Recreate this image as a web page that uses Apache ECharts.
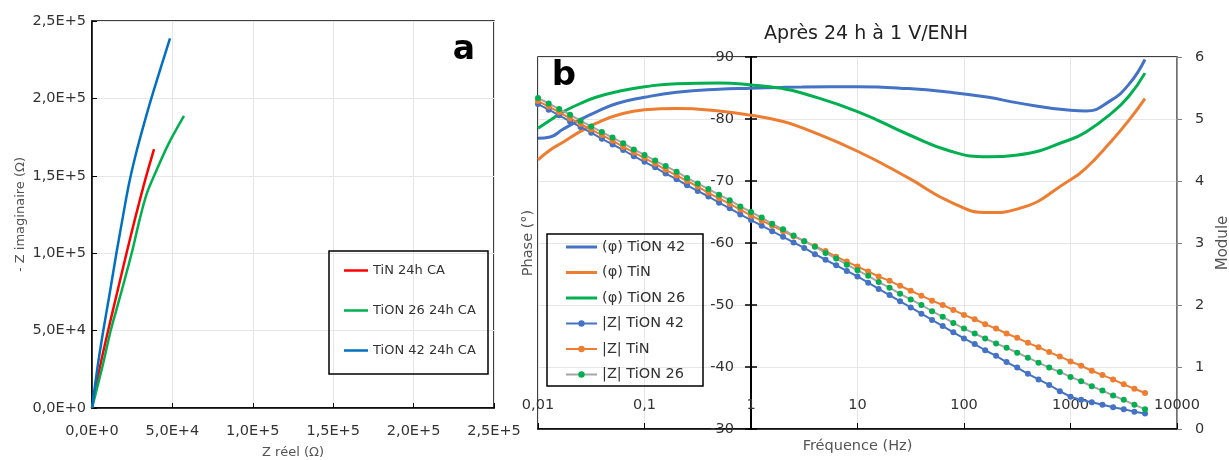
<!DOCTYPE html>
<html><head><meta charset="utf-8">
<script src="https://cdn.jsdelivr.net/npm/echarts@6/dist/echarts.min.js"></script>
<style>html,body{margin:0;padding:0;background:#fff}#c{width:1229px;height:460px}</style>
</head><body><div id="c"></div>
<script>
const FONT = '"DejaVu Sans", sans-serif';

// ---------- Panel a : Nyquist ----------
const nyqNames = ['TiN 24h CA', 'TiON 26 24h CA', 'TiON 42 24h CA'];
const nyqTiN_re = [0, 5000, 10000, 15500, 21500, 26500, 33500, 38600];
const nyqTiN_im = [0, 26800, 49900, 74000, 100100, 121200, 149000, 167300];
const nyqTiON26_re = [0, 6500, 11600, 18000, 24700, 29500, 34000, 40000, 47500, 57200];
const nyqTiON26_im = [0, 26800, 49900, 74000, 100100, 121200, 138300, 153300, 170500, 188700];
const nyqTiON42_re = [0, 3500, 7000, 11000, 15200, 18800, 23000, 27300, 32300, 38300, 48500];
const nyqTiON42_im = [0, 26800, 49900, 74000, 100100, 121200, 144800, 164100, 183400, 204800, 238700];

// ---------- Panel b : Bode ----------
const freqModule = [0.01, 0.0126, 0.0158, 0.02, 0.0251, 0.0316, 0.0398, 0.0501, 0.0631, 0.0794,
  0.1, 0.126, 0.158, 0.2, 0.251, 0.316, 0.398, 0.501, 0.631, 0.794,
  1, 1.26, 1.58, 2, 2.51, 3.16, 3.98, 5.01, 6.31, 7.94,
  10, 12.6, 15.8, 20, 25.1, 31.6, 39.8, 50.1, 63.1, 79.4,
  100, 126, 158, 200, 251, 316, 398, 501, 631, 794,
  1000, 1259, 1585, 1995, 2512, 3162, 3981, 5012];
const modTiON42 = [5.24, 5.15, 5.06, 4.96, 4.87, 4.78, 4.68, 4.59, 4.50, 4.40,
  4.31, 4.22, 4.12, 4.03, 3.93, 3.84, 3.75, 3.65, 3.56, 3.46,
  3.37, 3.28, 3.19, 3.10, 3.01, 2.92, 2.82, 2.73, 2.64, 2.55,
  2.46, 2.36, 2.26, 2.16, 2.06, 1.96, 1.86, 1.76, 1.66, 1.56,
  1.46, 1.37, 1.27, 1.18, 1.08, 0.99, 0.89, 0.80, 0.71, 0.61,
  0.52, 0.47, 0.43, 0.39, 0.35, 0.32, 0.28, 0.25];
const modTiN = [5.29, 5.20, 5.11, 5.01, 4.92, 4.83, 4.74, 4.65, 4.55, 4.46,
  4.37, 4.28, 4.18, 4.09, 4.00, 3.91, 3.81, 3.72, 3.63, 3.54,
  3.44, 3.36, 3.28, 3.19, 3.11, 3.03, 2.95, 2.87, 2.78, 2.70,
  2.62, 2.54, 2.46, 2.39, 2.31, 2.23, 2.15, 2.07, 2.00, 1.92,
  1.84, 1.77, 1.69, 1.62, 1.54, 1.47, 1.39, 1.32, 1.24, 1.17,
  1.09, 1.02, 0.94, 0.87, 0.80, 0.72, 0.65, 0.58];
const modTiON26 = [5.34, 5.25, 5.16, 5.07, 4.97, 4.88, 4.79, 4.70, 4.61, 4.51,
  4.42, 4.33, 4.24, 4.15, 4.05, 3.96, 3.87, 3.78, 3.69, 3.59,
  3.50, 3.41, 3.31, 3.22, 3.12, 3.03, 2.94, 2.84, 2.75, 2.65,
  2.56, 2.47, 2.37, 2.28, 2.18, 2.09, 2.00, 1.90, 1.81, 1.71,
  1.62, 1.54, 1.46, 1.38, 1.31, 1.23, 1.15, 1.07, 0.99, 0.92,
  0.84, 0.77, 0.69, 0.62, 0.54, 0.47, 0.39, 0.32];

const freqPhase = [0.01, 0.013, 0.017, 0.025, 0.035, 0.055, 0.1, 0.2, 0.5, 1, 2, 3, 10, 30, 75, 170, 320, 1000, 1400, 2300, 3500, 5000];
const phaseTiON42 = [-76.9, -77.1, -78.3, -79.9, -81.1, -82.5, -83.5, -84.3, -84.8, -84.95, -85.1, -85.15, -85.2, -84.9, -84.3, -83.5, -82.6, -81.4, -81.3, -82.8, -85.5, -89.6];
const phaseTiN = [-73.4, -75.0, -76.2, -78.0, -79.3, -80.6, -81.5, -81.7, -81.3, -80.6, -79.6, -78.6, -74.8, -70.5, -66.6, -64.9, -65.5, -70.2, -72.1, -76.0, -79.7, -83.3];
const phaseTiON26 = [-78.5, -79.8, -81.1, -82.5, -83.5, -84.4, -85.2, -85.7, -85.8, -85.5, -84.9, -84.2, -81.2, -77.5, -74.8, -73.9, -74.2, -76.7, -77.9, -80.6, -83.6, -87.4];

const phaseNames = ['(φ) TiON 42', '(φ) TiN', '(φ) TiON 26'];
const modNames = ['|Z| TiON 42', '|Z| TiN', '|Z| TiON 26'];

const zip = (a, b) => a.map((v, i) => [v, b[i]]);
const sciFmt = v => v === 0 ? '0,0E+0' : v.toExponential(1).replace('.', ',').replace('e', 'E');
const logFmt = v => String(parseFloat(Number(v).toPrecision(6))).replace('.', ',');

const gridLine = { show: true, lineStyle: { color: '#E6E6E6', width: 1 } };
const lab = { fontFamily: FONT, fontSize: 14.5, color: '#333' };
const nameStyle = { fontFamily: FONT, color: '#555' };
const lineIconA = 'path://M0,0 H24 V2.5 H0 Z';
const lineIconB = 'path://M0,0 H31 V3 H0 Z';

const chart = echarts.init(document.getElementById('c'), null, { renderer: 'canvas' });
chart.setOption({
  animation: false,
  backgroundColor: '#fff',
  title: {
    text: 'Après 24 h à 1 V/ENH', left: 866, top: 25, textAlign: 'center', padding: 0,
    textStyle: { fontFamily: FONT, fontSize: 19, fontWeight: 'normal', color: '#222' }
  },
  grid: [
    { left: 92, top: 21, width: 402, height: 387, show: true, borderColor: '#000', borderWidth: 1.5, backgroundColor: 'transparent', outerBoundsMode: 'none', containLabel: false },
    { left: 538, top: 57, width: 639, height: 372, show: true, borderColor: '#000', borderWidth: 1.5, backgroundColor: 'transparent', outerBoundsMode: 'none', containLabel: false }
  ],
  legend: [
    {
      data: nyqNames.map(n => ({ name: n, icon: lineIconA })),
      orient: 'vertical', left: 344, top: 264, itemGap: 27, itemWidth: 24, itemHeight: 14,
      textStyle: { fontFamily: FONT, fontSize: 13, color: '#333' }, padding: 0
    },
    {
      data: phaseNames.map(n => ({ name: n, icon: lineIconB })).concat(modNames),
      orient: 'vertical', left: 565, top: 239, itemGap: 9.5, itemWidth: 31, itemHeight: 8,
      textStyle: { fontFamily: FONT, fontSize: 14.5, color: '#333', lineHeight: 16 }, padding: 0
    }
  ],
  xAxis: [
    {
      gridIndex: 0, type: 'value', min: 0, max: 250000, interval: 50000,
      axisLine: { lineStyle: { color: '#000', width: 1.5 } },
      axisTick: { inside: true, length: 5, lineStyle: { color: '#000' } },
      axisLabel: Object.assign({ margin: 16, formatter: sciFmt }, lab),
      splitLine: gridLine,
      name: 'Z réel (Ω)', nameLocation: 'middle', nameGap: 38,
      nameTextStyle: Object.assign({ fontSize: 13 }, nameStyle)
    },
    {
      gridIndex: 1, type: 'log', logBase: 10, min: 0.01, max: 10000,
      axisLine: { lineStyle: { color: '#000', width: 1.5 } },
      axisTick: { inside: true, length: 6, lineStyle: { color: '#000' } },
      axisLabel: Object.assign({ inside: true, margin: 16, formatter: logFmt }, lab),
      splitLine: gridLine,
      name: 'Fréquence (Hz)', nameLocation: 'middle', nameGap: 10,
      nameTextStyle: Object.assign({ fontSize: 14.5 }, nameStyle)
    }
  ],
  yAxis: [
    {
      gridIndex: 0, type: 'value', min: 0, max: 250000, interval: 50000,
      axisLine: { lineStyle: { color: '#000', width: 1.5 } },
      axisTick: { inside: true, length: 5, lineStyle: { color: '#000' } },
      axisLabel: Object.assign({ margin: 6, formatter: sciFmt }, lab),
      splitLine: gridLine,
      name: '- Z imaginaire (Ω)', nameLocation: 'middle', nameGap: 65,
      nameTextStyle: Object.assign({ fontSize: 13 }, nameStyle)
    },
    {
      gridIndex: 1, type: 'value', min: -90, max: -30, interval: 10, inverse: true,
      position: 'left', offset: -213,
      axisLine: { show: true, lineStyle: { color: '#000', width: 2 } },
      axisTick: { show: true, length: 6, lineStyle: { color: '#000', width: 1.5 } },
      axisLabel: Object.assign({ margin: 17 }, lab),
      splitLine: { show: false },
      name: 'Phase (°)', nameLocation: 'middle', nameGap: 215,
      nameTextStyle: Object.assign({ fontSize: 14.5 }, nameStyle)
    },
    {
      gridIndex: 1, type: 'value', min: 0, max: 6, interval: 1, position: 'right',
      axisLine: { show: true, lineStyle: { color: '#808080', width: 1.5 } },
      axisTick: { show: true, length: 5, lineStyle: { color: '#808080' } },
      axisLabel: Object.assign({ margin: 18 }, lab),
      splitLine: gridLine,
      name: 'Module', nameLocation: 'middle', nameGap: 37,
      nameTextStyle: Object.assign({ fontSize: 15 }, nameStyle)
    },
    {
      gridIndex: 1, type: 'value', min: -90, max: -30, interval: 10, inverse: true,
      position: 'left', offset: -213,
      axisLine: { show: false },
      axisTick: { show: true, inside: true, length: 6, lineStyle: { color: '#000', width: 1.5 } },
      axisLabel: { show: false },
      splitLine: { show: false }
    }
  ],
  series: [
    { name: nyqNames[0], type: 'line', xAxisIndex: 0, yAxisIndex: 0, data: zip(nyqTiN_re, nyqTiN_im), smooth: 0.3, symbol: 'none', color: '#FF0000', lineStyle: { width: 2.5 } },
    { name: nyqNames[1], type: 'line', xAxisIndex: 0, yAxisIndex: 0, data: zip(nyqTiON26_re, nyqTiON26_im), smooth: 0.3, symbol: 'none', color: '#00B050', lineStyle: { width: 2.5 } },
    { name: nyqNames[2], type: 'line', xAxisIndex: 0, yAxisIndex: 0, data: zip(nyqTiON42_re, nyqTiON42_im), smooth: 0.3, symbol: 'none', color: '#0070C0', lineStyle: { width: 2.5 } },

    { name: phaseNames[0], type: 'line', xAxisIndex: 1, yAxisIndex: 1, data: zip(freqPhase, phaseTiON42), smooth: true, symbol: 'none', color: '#4472C4', lineStyle: { width: 3 } },
    { name: phaseNames[1], type: 'line', xAxisIndex: 1, yAxisIndex: 1, data: zip(freqPhase, phaseTiN), smooth: true, symbol: 'none', color: '#ED7D31', lineStyle: { width: 3 } },
    { name: phaseNames[2], type: 'line', xAxisIndex: 1, yAxisIndex: 1, data: zip(freqPhase, phaseTiON26), smooth: true, symbol: 'none', color: '#00B050', lineStyle: { width: 3 } },

    { name: modNames[0], type: 'line', xAxisIndex: 1, yAxisIndex: 2, data: zip(freqModule, modTiON42), symbol: 'circle', symbolSize: 6, color: '#4472C4', lineStyle: { width: 2, color: '#4472C4' }, itemStyle: { color: '#4472C4' } },
    { name: modNames[1], type: 'line', xAxisIndex: 1, yAxisIndex: 2, data: zip(freqModule, modTiN), symbol: 'circle', symbolSize: 6, color: '#ED7D31', lineStyle: { width: 2, color: '#ED7D31' }, itemStyle: { color: '#ED7D31' } },
    { name: modNames[2], type: 'line', xAxisIndex: 1, yAxisIndex: 2, data: zip(freqModule, modTiON26), symbol: 'circle', symbolSize: 6, color: '#00B050', lineStyle: { width: 2, color: '#A5A5A5' }, itemStyle: { color: '#00B050' } }
  ],
  graphic: [
    { type: 'rect', z: 100, shape: { x: 329, y: 251, width: 159, height: 123 }, style: { fill: 'none', stroke: '#000', lineWidth: 1.5 } },
    { type: 'rect', z: 100, shape: { x: 547, y: 234, width: 156, height: 152 }, style: { fill: 'none', stroke: '#000', lineWidth: 1.5 } },
    { type: 'text', z: 100, style: { text: 'a', x: 464, y: 50, align: 'center', verticalAlign: 'middle', font: 'bold 33px "DejaVu Sans", sans-serif', fill: '#000' } },
    { type: 'text', z: 100, style: { text: 'b', x: 564, y: 76, align: 'center', verticalAlign: 'middle', font: 'bold 34px "DejaVu Sans", sans-serif', fill: '#000' } }
  ]
});
</script></body></html>
